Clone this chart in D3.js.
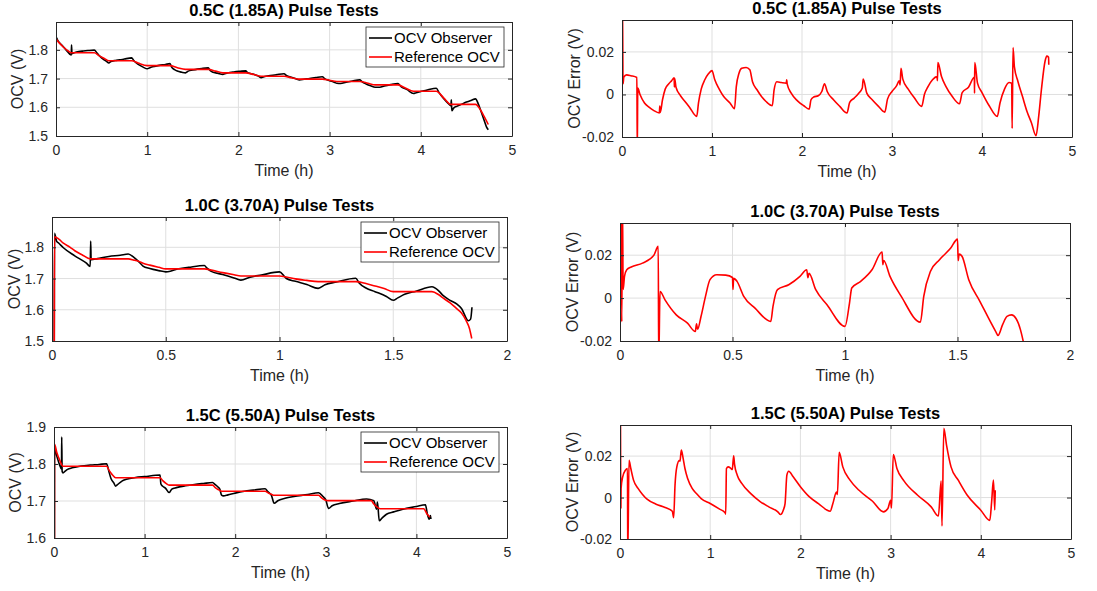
<!DOCTYPE html>
<html>
<head>
<meta charset="utf-8">
<script src="https://cdn.jsdelivr.net/npm/d3@7"></script>
<style>
  body { margin: 0; background: #fff; }
  text { font-family: "Liberation Sans", Arial, Helvetica, sans-serif; }
</style>
</head>
<body>
<svg id="fig" width="1097" height="591"></svg>
<script>
// ---------------- tick values and labels ----------------
const ticksTime5 = [0, 1, 2, 3, 4, 5];
const labelsTime5 = ["0", "1", "2", "3", "4", "5"];
const ticksTime2 = [0, 0.5, 1, 1.5, 2];
const labelsTime2 = ["0", "0.5", "1", "1.5", "2"];
const ticksOcvLow = [1.5, 1.6, 1.7, 1.8];
const labelsOcvLow = ["1.5", "1.6", "1.7", "1.8"];
const ticksOcvHigh = [1.6, 1.7, 1.8, 1.9];
const labelsOcvHigh = ["1.6", "1.7", "1.8", "1.9"];
const ticksErr = [-0.02, 0, 0.02];
const labelsErr = ["-0.02", "0", "0.02"];

const titles = ["0.5C (1.85A) Pulse Tests", "1.0C (3.70A) Pulse Tests", "1.5C (5.50A) Pulse Tests"];
const legendNames = ["OCV Observer", "Reference OCV"];

// ---------------- 0.5C test: [time (h), voltage (V)] ----------------
const ref05 = [[0,1.5],[0.001,1.837],[0.03,1.826],[0.08,1.81],[0.13,1.797],[0.17,1.79],[0.42,1.79],[0.47,1.78],[0.53,1.77],[0.58,1.762],
  [0.83,1.762],[0.9,1.754],[1.0,1.745],[1.25,1.745],[1.33,1.738],[1.42,1.732],[1.67,1.732],[1.75,1.726],[1.83,1.72],
  [2.08,1.72],[2.17,1.714],[2.25,1.708],[2.5,1.708],[2.58,1.703],[2.67,1.698],[2.92,1.698],[3.0,1.694],[3.08,1.69],
  [3.33,1.69],[3.42,1.684],[3.5,1.678],[3.75,1.678],[3.83,1.667],[3.92,1.656],[4.17,1.656],[4.25,1.633],[4.33,1.61],
  [4.6,1.61],[4.66,1.588],[4.7,1.565],[4.74,1.54]];

const obs05 = [[0,1.5],[0.001,1.844],[0.02,1.832],[0.06,1.818],[0.11,1.8],[0.168,1.782],[0.17,1.817],[0.175,1.787],
  [0.2,1.79],[0.25,1.794],[0.3,1.796],[0.35,1.7975],[0.42,1.799],[0.45,1.789],[0.48,1.778],[0.52,1.767],[0.55,1.761],
  [0.58,1.754],[0.6,1.759],[0.65,1.763],[0.7,1.765],[0.75,1.768],[0.83,1.772],[0.85,1.764],[0.88,1.755],[0.92,1.746],
  [0.96,1.739],[1.0,1.734],[1.03,1.738],[1.08,1.7425],[1.13,1.746],[1.2,1.749],[1.25,1.752],[1.27,1.739],[1.3,1.731],
  [1.33,1.726],[1.38,1.722],[1.42,1.72],[1.45,1.726],[1.5,1.7298],[1.55,1.733],[1.6,1.7353],[1.67,1.7373],[1.69,1.728],
  [1.72,1.722],[1.77,1.719],[1.83,1.7147],[1.88,1.7194],[1.95,1.723],[2.02,1.7253],[2.08,1.7269],[2.1,1.721],
  [2.13,1.7177],[2.18,1.7136],[2.22,1.7086],[2.25,1.703],[2.28,1.7066],[2.35,1.7105],[2.42,1.7136],[2.5,1.7167],
  [2.53,1.7097],[2.58,1.7047],[2.63,1.6994],[2.67,1.695],[2.72,1.6974],[2.78,1.7005],[2.85,1.7036],[2.92,1.7063],
  [2.95,1.6987],[3.0,1.6926],[3.05,1.6875],[3.08,1.6836],[3.12,1.6828],[3.18,1.6875],[3.25,1.6917],[3.33,1.6956],
  [3.36,1.688],[3.4,1.6813],[3.45,1.6746],[3.5,1.6696],[3.55,1.6696],[3.6,1.6743],[3.67,1.679],[3.75,1.6824],
  [3.78,1.673],[3.85,1.6616],[3.92,1.648],[3.95,1.6507],[4.0,1.655],[4.08,1.6613],[4.17,1.6663],[4.2,1.651],
  [4.25,1.6305],[4.3,1.6134],[4.33,1.605],[4.335,1.626],[4.34,1.588],[4.36,1.597],[4.4,1.604],[4.45,1.611],
  [4.5,1.618],[4.55,1.6234],[4.6,1.6294],[4.63,1.612],[4.66,1.586],[4.7,1.55],[4.72,1.532],[4.74,1.522]];

const err05 = [[0,-0.01],[0.005,0.045],[0.012,0.005],[0.02,0.0081],[0.05,0.0092],[0.1,0.0088],[0.165,0.008],
  [0.17,-0.027],[0.175,0.003],[0.2,0],[0.25,-0.004],[0.3,-0.006],[0.35,-0.0075],[0.415,-0.0087],[0.42,-0.0055],
  [0.425,-0.0085],[0.45,-0.0025],[0.48,0.0025],[0.52,0.005],[0.55,0.0064],[0.58,0.0078],[0.582,0.0035],[0.585,0.0075],
  [0.6,0.0034],[0.65,-0.0006],[0.7,-0.0033],[0.75,-0.006],[0.83,-0.0103],[0.85,-0.004],[0.88,0.0025],[0.92,0.0069],
  [0.96,0.0097],[1.0,0.0112],[1.03,0.007],[1.08,0.0025],[1.13,-0.001],[1.2,-0.004],[1.25,-0.0067],[1.27,0.0037],
  [1.3,0.01],[1.33,0.0123],[1.38,0.0127],[1.42,0.0116],[1.45,0.006],[1.5,0.0022],[1.55,-0.001],[1.6,-0.0033],
  [1.67,-0.0053],[1.69,0.0022],[1.72,0.006],[1.77,0.0056],[1.825,0.0053],[1.83,0.0069],[1.835,0.005],[1.88,0.0006],
  [1.95,-0.003],[2.02,-0.0053],[2.08,-0.0069],[2.1,-0.0025],[2.13,-0.0012],[2.18,-0.0006],[2.22,0.0014],[2.25,0.005],
  [2.28,0.0014],[2.35,-0.0025],[2.42,-0.0056],[2.5,-0.0087],[2.53,-0.0037],[2.58,-0.0017],[2.63,0.0006],[2.67,0.003],
  [2.68,0.0073],[2.72,0.0006],[2.78,-0.0025],[2.85,-0.0056],[2.92,-0.0083],[2.95,-0.0022],[3.0,0.0014],[3.05,0.004],
  [3.08,0.0064],[3.09,0.0045],[3.1,0.0123],[3.12,0.0072],[3.18,0.0025],[3.25,-0.0017],[3.33,-0.0056],[3.36,0],
  [3.4,0.0037],[3.45,0.0069],[3.5,0.0084],[3.505,0.0065],[3.51,0.015],[3.55,0.0084],[3.6,0.0037],[3.67,-0.001],
  [3.75,-0.0044],[3.78,0.0009],[3.85,0.0034],[3.915,0.0081],[3.917,0.0006],[3.92,0.015],[3.95,0.0053],[4.0,0.0009],
  [4.08,-0.0053],[4.17,-0.0103],[4.2,-0.004],[4.25,0.0025],[4.3,0.0056],[4.33,0.0053],[4.335,-0.016],[4.345,0.022],
  [4.36,0.013],[4.4,0.006],[4.45,-0.001],[4.5,-0.008],[4.55,-0.0134],[4.6,-0.0194],[4.63,-0.0103],[4.66,0.0022],
  [4.7,0.0155],[4.72,0.018],[4.74,0.0175],[4.742,0.014]];

// ---------------- 1.0C test ----------------
const ref10 = [[0.01,1.5],[0.011,1.834],[0.03,1.826],[0.05,1.813],[0.08,1.8],[0.1,1.789],[0.13,1.777],[0.17,1.763],
  [0.335,1.763],[0.36,1.759],[0.38,1.755],[0.4,1.749],[0.43,1.743],[0.47,1.736],[0.5,1.731],[0.67,1.731],[0.7,1.727],
  [0.75,1.719],[0.8,1.712],[0.83,1.708],[1.0,1.708],[1.03,1.705],[1.07,1.699],[1.12,1.694],[1.17,1.69],[1.335,1.69],
  [1.38,1.684],[1.42,1.676],[1.46,1.668],[1.5,1.658],[1.67,1.658],[1.7,1.648],[1.72,1.637],[1.75,1.622],[1.78,1.603],
  [1.8,1.59],[1.82,1.566],[1.835,1.54],[1.845,1.508]];

const obs10 = [[0.01,1.5],[0.011,1.845],[0.02,1.82],[0.03,1.813],[0.05,1.7985],[0.1,1.7727],[0.15,1.75],[0.168,1.739],
  [0.17,1.82],[0.172,1.76],[0.2,1.7638],[0.25,1.7708],[0.3,1.7747],[0.335,1.7786],[0.36,1.7676],[0.38,1.755],
  [0.4,1.74],[0.43,1.732],[0.47,1.7253],[0.5,1.7214],[0.52,1.7232],[0.55,1.7302],[0.6,1.7357],[0.67,1.7419],
  [0.68,1.734],[0.7,1.723],[0.75,1.713],[0.8,1.702],[0.83,1.6948],[0.87,1.7041],[0.92,1.7111],[1.0,1.7212],
  [1.02,1.708],[1.03,1.7],[1.07,1.691],[1.12,1.681],[1.17,1.6685],[1.2,1.68],[1.25,1.689],[1.335,1.701],[1.35,1.686],
  [1.38,1.6695],[1.42,1.658],[1.47,1.6427],[1.5,1.6305],[1.52,1.638],[1.55,1.6494],[1.6,1.6596],[1.67,1.6736],
  [1.7,1.6605],[1.72,1.645],[1.75,1.63],[1.78,1.618],[1.8,1.604],[1.83,1.565],[1.84,1.57],[1.846,1.608]];

const err10 = [[0.004,0.045],[0.008,-0.011],[0.011,0.045],[0.014,0.004],[0.02,0.0101],[0.03,0.0132],[0.05,0.0145],
  [0.1,0.0163],[0.15,0.0199],[0.17,0.0241],[0.172,-0.03],[0.178,0.0031],[0.2,-0.0008],[0.25,-0.0078],[0.3,-0.0117],
  [0.335,-0.0156],[0.34,-0.012],[0.345,-0.0145],[0.36,-0.0086],[0.38,0.0008],[0.4,0.0086],[0.43,0.0109],[0.47,0.0107],
  [0.5,0.0096],[0.502,0.004],[0.505,0.0092],[0.52,0.0078],[0.55,0.0008],[0.6,-0.0047],[0.67,-0.0109],[0.68,-0.0039],
  [0.7,0.0039],[0.75,0.0062],[0.8,0.0101],[0.83,0.0132],[0.835,0.0095],[0.84,0.0115],[0.87,0.0039],[0.92,-0.0031],
  [1.0,-0.0132],[1.02,-0.0023],[1.03,0.0047],[1.07,0.0078],[1.12,0.0132],[1.165,0.0215],[1.168,0.0156],[1.172,0.0175],
  [1.2,0.0101],[1.25,0.0008],[1.335,-0.0112],[1.35,0.0008],[1.38,0.0125],[1.42,0.0179],[1.47,0.0233],[1.5,0.0275],
  [1.503,0.0175],[1.507,0.0205],[1.52,0.0195],[1.55,0.0086],[1.6,-0.0016],[1.67,-0.0156],[1.68,-0.0174],[1.7,-0.0125],
  [1.72,-0.0085],[1.74,-0.0078],[1.76,-0.0095],[1.78,-0.0148],[1.795,-0.0215]];

// ---------------- 1.5C test ----------------
const ref15 = [[0.005,1.6],[0.006,1.853],[0.03,1.832],[0.06,1.812],[0.1,1.794],[0.58,1.794],[0.61,1.782],[0.64,1.772],
  [0.68,1.763],[1.17,1.763],[1.2,1.755],[1.24,1.747],[1.27,1.743],[1.75,1.743],[1.78,1.736],[1.82,1.73],[1.85,1.7265],
  [2.33,1.7265],[2.37,1.721],[2.4,1.718],[2.43,1.7156],[2.92,1.7156],[2.95,1.709],[2.99,1.703],[3.02,1.701],
  [3.5,1.701],[3.53,1.692],[3.57,1.683],[3.6,1.679],[4.08,1.679],[4.12,1.664],[4.15,1.656]];

const obs15 = [[0.005,1.6],[0.006,1.845],[0.01,1.84],[0.03,1.822],[0.06,1.799],[0.083,1.786],[0.085,1.873],[0.09,1.78],
  [0.1,1.776],[0.12,1.78],[0.15,1.7856],[0.2,1.7896],[0.3,1.7948],[0.4,1.7972],[0.5,1.7988],[0.58,1.8006],[0.61,1.776],
  [0.63,1.76],[0.66,1.749],[0.68,1.74],[0.7,1.744],[0.75,1.7538],[0.8,1.7586],[0.9,1.7635],[1.0,1.766],[1.17,1.7703],
  [1.18,1.746],[1.2,1.74],[1.23,1.735],[1.27,1.7228],[1.3,1.7322],[1.35,1.7362],[1.45,1.7411],[1.55,1.7448],
  [1.65,1.7475],[1.75,1.7499],[1.78,1.744],[1.81,1.738],[1.83,1.732],[1.85,1.7157],[1.87,1.7138],[1.92,1.7165],
  [2.0,1.7213],[2.1,1.7262],[2.2,1.7294],[2.33,1.7331],[2.36,1.7254],[2.4,1.7153],[2.43,1.6938],[2.47,1.7008],
  [2.55,1.7072],[2.65,1.7121],[2.8,1.7174],[2.92,1.7225],[2.97,1.712],[3.0,1.703],[3.03,1.68],[3.07,1.687],
  [3.15,1.6931],[3.3,1.6999],[3.45,1.7055],[3.53,1.7009],[3.56,1.678],[3.57,1.697],[3.59,1.6466],[3.62,1.6537],
  [3.67,1.6642],[3.75,1.6706],[3.85,1.6779],[4.0,1.6851],[4.1,1.69],[4.12,1.666],[4.14,1.6506],[4.155,1.661],
  [4.16,1.6515]];

const err15 = [[0.005,0.045],[0.01,-0.005],[0.012,0.0044],[0.03,0.01],[0.06,0.0132],[0.083,0.014],[0.086,-0.03],
  [0.1,0.018],[0.12,0.014],[0.15,0.0084],[0.2,0.0044],[0.25,0.0015],[0.3,-0.0008],[0.4,-0.0032],[0.5,-0.0048],
  [0.58,-0.0066],[0.595,-0.0097],[0.61,0.006],[0.63,0.0148],[0.66,0.018],[0.665,0.0175],[0.68,0.0229],[0.7,0.0189],
  [0.72,0.014],[0.75,0.0092],[0.8,0.0044],[0.85,0.0018],[0.9,-0.0005],[1.0,-0.0029],[1.1,-0.0055],[1.165,-0.0073],
  [1.172,-0.008],[1.18,0.014],[1.2,0.0148],[1.23,0.014],[1.245,0.0135],[1.26,0.0202],[1.27,0.016],[1.3,0.0108],
  [1.35,0.0068],[1.45,0.0019],[1.55,-0.0018],[1.65,-0.0045],[1.75,-0.0069],[1.78,-0.0082],[1.81,-0.0061],
  [1.83,-0.0029],[1.85,0.0108],[1.87,0.0127],[1.92,0.01],[2.0,0.0052],[2.1,0.0003],[2.2,-0.0029],[2.33,-0.0066],
  [2.36,-0.0029],[2.4,0.0027],[2.41,0.0015],[2.43,0.0218],[2.47,0.0148],[2.55,0.0084],[2.65,0.0035],[2.8,-0.0018],
  [2.92,-0.0069],[2.97,-0.0053],[3.0,-0.0013],[3.01,-0.005],[3.03,0.0208],[3.07,0.014],[3.15,0.0079],[3.3,0.0011],
  [3.45,-0.0045],[3.53,-0.0089],[3.56,0.0079],[3.57,-0.0137],[3.59,0.0334],[3.62,0.0253],[3.67,0.0148],[3.75,0.0084],
  [3.85,0.0011],[4.0,-0.0061],[4.1,-0.011],[4.12,-0.0021],[4.14,0.0084],[4.155,-0.006],[4.16,0.0035]];

// ---------------- figure layout ----------------
const svg = d3.select("#fig");
svg.append("rect").attr("width", 1097).attr("height", 591).attr("fill", "#fff");

const AX = "#262626", GRID = "#dfdfdf";

const panels = [
  { title: titles[0], ylabel: "OCV (V)", xd: [0, 5], yd: [1.5, 1.897], xt: ticksTime5, xl: labelsTime5,
    yt: ticksOcvLow, yl: labelsOcvLow, lines: [[obs05, "#000"], [ref05, "#f00"]], legend: true,
    box: { l: 56, r: 512, t: 22, b: 136 }, ylx: 23 },
  { title: titles[0], ylabel: "OCV Error (V)", xd: [0, 5], yd: [-0.02, 0.035], xt: ticksTime5, xl: labelsTime5,
    yt: ticksErr, yl: labelsErr, lines: [[err05, "#f00"]], legend: false,
    box: { l: 622, r: 1072, t: 20, b: 137 }, ylx: 580 },
  { title: titles[1], ylabel: "OCV (V)", xd: [0, 2], yd: [1.5, 1.897], xt: ticksTime2, xl: labelsTime2,
    yt: ticksOcvLow, yl: labelsOcvLow, lines: [[obs10, "#000"], [ref10, "#f00"]], legend: true,
    box: { l: 52, r: 507, t: 217, b: 341 }, ylx: 19.5 },
  { title: titles[1], ylabel: "OCV Error (V)", xd: [0, 2], yd: [-0.02, 0.035], xt: ticksTime2, xl: labelsTime2,
    yt: ticksErr, yl: labelsErr, lines: [[err10, "#f00"]], legend: false,
    box: { l: 620, r: 1070, t: 223, b: 341 }, ylx: 577.5 },
  { title: titles[2], ylabel: "OCV (V)", xd: [0, 5], yd: [1.6, 1.9], xt: ticksTime5, xl: labelsTime5,
    yt: ticksOcvHigh, yl: labelsOcvHigh, lines: [[obs15, "#000"], [ref15, "#f00"]], legend: true,
    box: { l: 54, r: 507, t: 427, b: 538 }, ylx: 21 },
  { title: titles[2], ylabel: "OCV Error (V)", xd: [0, 5], yd: [-0.02, 0.035], xt: ticksTime5, xl: labelsTime5,
    yt: ticksErr, yl: labelsErr, lines: [[err15, "#f00"]], legend: false,
    box: { l: 620, r: 1071, t: 425, b: 539 }, ylx: 578 }
];

panels.forEach((p, i) => {
  const B = p.box, W = B.r - B.l, H = B.b - B.t;
  const x = d3.scaleLinear().domain(p.xd).range([0, W]);
  const y = d3.scaleLinear().domain(p.yd).range([H, 0]);
  const g = svg.append("g").attr("transform", `translate(${B.l},${B.t})`);

  // grid
  g.append("g").selectAll("line").data(p.xt.filter(v => v > p.xd[0] && v < p.xd[1])).join("line")
    .attr("x1", d => x(d)).attr("x2", d => x(d)).attr("y1", 0).attr("y2", H)
    .attr("stroke", GRID).attr("stroke-width", 1);
  g.append("g").selectAll("line").data(p.yt.filter(v => v > p.yd[0] && v < p.yd[1])).join("line")
    .attr("y1", d => y(d)).attr("y2", d => y(d)).attr("x1", 0).attr("x2", W)
    .attr("stroke", GRID).attr("stroke-width", 1);

  // data lines, clipped to the plot box
  const cid = "clip" + i;
  g.append("clipPath").attr("id", cid).append("rect").attr("width", W).attr("height", H);
  const line = d3.line().curve(d3.curveMonotoneX).x(d => x(d[0])).y(d => y(d[1]));
  const lg = g.append("g").attr("clip-path", `url(#${cid})`);
  p.lines.forEach(([data, col]) => {
    lg.append("path").datum(data).attr("d", line).attr("fill", "none")
      .attr("stroke", col).attr("stroke-width", 1.6).attr("stroke-linejoin", "round");
  });

  // axes: labelled bottom/left, bare top/right, ticks pointing inward
  const fmtX = d => p.xl[p.xt.indexOf(d)];
  const fmtY = d => p.yl[p.yt.indexOf(d)];
  const styleAxis = sel => {
    sel.select(".domain").attr("stroke", AX).attr("stroke-width", 1);
    sel.selectAll(".tick line").attr("stroke", AX);
    sel.selectAll(".tick text").attr("fill", AX).style("font-size", "14px")
      .style("font-family", '"Liberation Sans", Arial, Helvetica, sans-serif');
  };
  g.append("g").attr("transform", `translate(0,${H})`)
    .call(d3.axisBottom(x).tickValues(p.xt).tickFormat(fmtX).tickSizeInner(-4).tickSizeOuter(0).tickPadding(9))
    .call(styleAxis);
  g.append("g")
    .call(d3.axisTop(x).tickValues(p.xt).tickFormat("").tickSizeInner(-4).tickSizeOuter(0))
    .call(styleAxis);
  g.append("g")
    .call(d3.axisLeft(y).tickValues(p.yt).tickFormat(fmtY).tickSizeInner(-4).tickSizeOuter(0).tickPadding(8))
    .call(styleAxis);
  g.append("g").attr("transform", `translate(${W},0)`)
    .call(d3.axisRight(y).tickValues(p.yt).tickFormat("").tickSizeInner(-4).tickSizeOuter(0))
    .call(styleAxis);

  // title and axis labels
  g.append("text").attr("x", W / 2).attr("y", -6.5).attr("text-anchor", "middle")
    .style("font-size", "16.5px").style("font-weight", "bold").attr("fill", "#000").text(p.title);
  g.append("text").attr("x", W / 2).attr("y", H + 39.5).attr("text-anchor", "middle")
    .style("font-size", "16px").attr("fill", AX).text("Time (h)");
  svg.append("text")
    .attr("transform", `translate(${p.ylx},${B.t + H / 2}) rotate(-90)`)
    .attr("text-anchor", "middle").style("font-size", "16px").attr("fill", AX).text(p.ylabel);

  // legend
  if (p.legend) {
    const lw = 138, lh = 40, lx = W - 8 - lw, ly = 5;
    const L = g.append("g").attr("transform", `translate(${lx},${ly})`);
    L.append("rect").attr("width", lw).attr("height", lh).attr("fill", "#fff")
      .attr("stroke", AX).attr("stroke-width", 0.8);
    p.lines.forEach(([, col], k) => {
      const yy = 11 + k * 19;
      L.append("line").attr("x1", 3).attr("x2", 26).attr("y1", yy).attr("y2", yy)
        .attr("stroke", col).attr("stroke-width", 1.6);
      L.append("text").attr("x", 28).attr("y", yy).attr("dy", "0.36em")
        .style("font-size", "15px").attr("fill", "#000").text(legendNames[k]);
    });
  }
});
</script>
</body>
</html>
